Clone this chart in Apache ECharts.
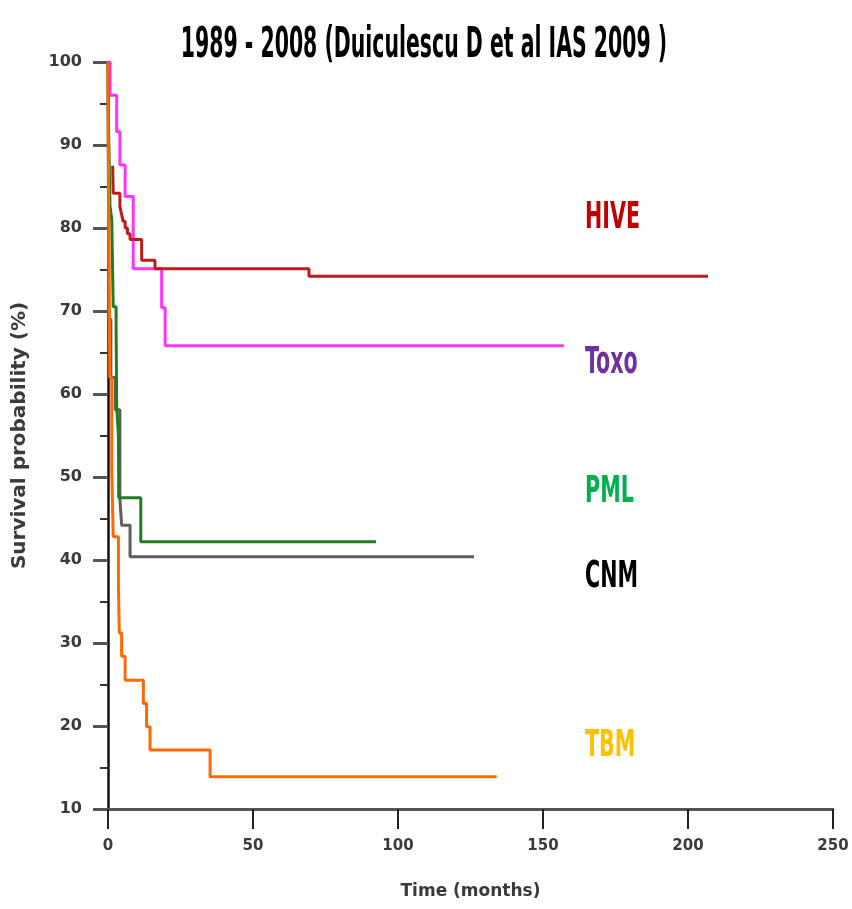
<!DOCTYPE html>
<html><head><meta charset="utf-8">
<script src="https://cdn.jsdelivr.net/npm/echarts@6/dist/echarts.min.js"></script>
<style>html,body{margin:0;padding:0;background:#fff}#c{width:852px;height:909px}</style>
</head><body><div id="c"></div>
<script>
// ---- data ----
const titleText = '1989 - 2008 (Duiculescu D et al IAS 2009 )';
const xAxisName = 'Time (months)';
const yAxisName = 'Survival probability (%)';
const xTickLabels = ['0', '50', '100', '150', '200', '250'];
const yTickLabels = ['10', '20', '30', '40', '50', '60', '70', '80', '90', '100'];
const seriesNames = ['HIVE', 'Toxo', 'PML', 'CNM', 'TBM'];

const hiveTime = [1.6, 1.8, 4.1, 4.6, 5.2, 5.9, 6.7, 7.6, 11.6, 16.2, 69.3, 206.9];
const hiveSurv = [87.5, 84.2, 82.6, 81.8, 80.8, 80.0, 79.3, 78.6, 76.1, 75.1, 74.2, 74.2];

const toxoTime = [0, 0.7, 3.0, 4.1, 5.9, 8.7, 18.5, 19.7, 157.2];
const toxoSurv = [100, 96.0, 91.6, 87.6, 83.8, 75.1, 70.4, 65.8, 65.8];

const pmlTime = [0, 0.1, 0.7, 1.3, 1.8, 2.8, 3.0, 3.6, 3.7, 11.3, 92.4];
const pmlSurv = [100, 93.8, 82.6, 81.0, 70.5, 67.7, 58.5, 54.9, 47.5, 42.2, 42.2];

const cnmTime = [0, 0.3, 1.0, 2.5, 4.1, 4.7, 7.6, 126.2];
const cnmSurv = [100, 69.0, 62.0, 58.1, 47.4, 44.2, 40.4, 40.4];

const tbmTime = [0, 0.05, 0.3, 0.6, 1.3, 1.8, 3.6, 3.9, 4.7, 5.9, 12.2, 13.3, 14.5, 35.2, 134.0];
const tbmSurv = [100, 92.6, 80.0, 62.0, 50.8, 42.8, 36.8, 31.2, 28.4, 25.5, 22.7, 19.9, 17.1, 13.9, 13.9];

// ---- build ----
const pairs = (t, s) => t.map((v, i) => [v, s[i]]);
const seriesData = [
  pairs(hiveTime, hiveSurv),
  pairs(toxoTime, toxoSurv),
  pairs(pmlTime, pmlSurv),
  pairs(cnmTime, cnmSurv),
  pairs(tbmTime, tbmSurv)
];
const lineColors = ['#c01a1a', '#ff33ff', '#1f7d1f', '#5e5e5e', '#ff6a00'];
const labelColors = ['#c00000', '#7030a0', '#00b050', '#000000', '#ffc000'];
const labelY = [219, 364, 493, 578, 747];
const narrow = '"Liberation Sans Narrow", "DejaVu Sans Condensed", "Liberation Sans", sans-serif';

const chart = echarts.init(document.getElementById('c'), null, {renderer: 'canvas'});
const option = {
  backgroundColor: '#ffffff',
  animation: false,
  grid: {left: 108, right: 19, top: 62, bottom: 100},
  xAxis: {
    type: 'value', min: 0, max: 250, interval: 50,
    name: xAxisName, nameLocation: 'middle', nameGap: 74,
    nameTextStyle: {fontFamily: 'DejaVu Sans', fontWeight: 'bold', fontSize: 17, color: '#3a3a3a'},
    axisLine: {lineStyle: {color: '#555', width: 3}},
    axisTick: {length: 20, lineStyle: {color: '#222', width: 2}},
    axisLabel: {margin: 30, fontFamily: 'DejaVu Sans', fontWeight: 'bold', fontSize: 15, color: '#3a3a3a',
      formatter: (v) => xTickLabels[Math.round(v / 50)]},
    splitLine: {show: false}
  },
  yAxis: {
    type: 'value', min: 10, max: 100, interval: 10,
    name: yAxisName, nameLocation: 'middle', nameGap: 78,
    nameTextStyle: {fontFamily: 'DejaVu Sans', fontWeight: 'bold', fontSize: 20, color: '#3a3a3a'},
    axisLine: {lineStyle: {color: '#111', width: 2.5}},
    axisTick: {length: 15, lineStyle: {color: '#555', width: 3}},
    minorTick: {show: true, splitNumber: 2, length: 8, lineStyle: {color: '#333', width: 2}},
    axisLabel: {margin: 26, fontFamily: 'DejaVu Sans', fontWeight: 'bold', fontSize: 16, color: '#3a3a3a',
      formatter: (v) => yTickLabels[Math.round((v - 10) / 10)]},
    splitLine: {show: false}
  },
  graphic: [
    {type: 'text', x: 424, y: 46, scaleX: 0.71, scaleY: 1.35,
      style: {text: titleText, font: 'bold 32px ' + narrow, fill: '#000', textAlign: 'center', textVerticalAlign: 'middle'}}
  ].concat(seriesNames.map((n, i) => ({
    type: 'text', x: 585, y: labelY[i], scaleX: 0.85, scaleY: 1.35,
    style: {text: n, font: 'bold 27px ' + narrow, fill: labelColors[i], textAlign: 'left', textVerticalAlign: 'middle'}
  }))),
  series: seriesNames.map((n, i) => ({
    name: n, type: 'line', step: 'end', data: seriesData[i],
    showSymbol: false, symbol: 'none',
    lineStyle: {color: lineColors[i], width: 3},
    z: [3, 2, 5, 4, 6][i]
  }))
};
chart.setOption(option);
</script></body></html>
